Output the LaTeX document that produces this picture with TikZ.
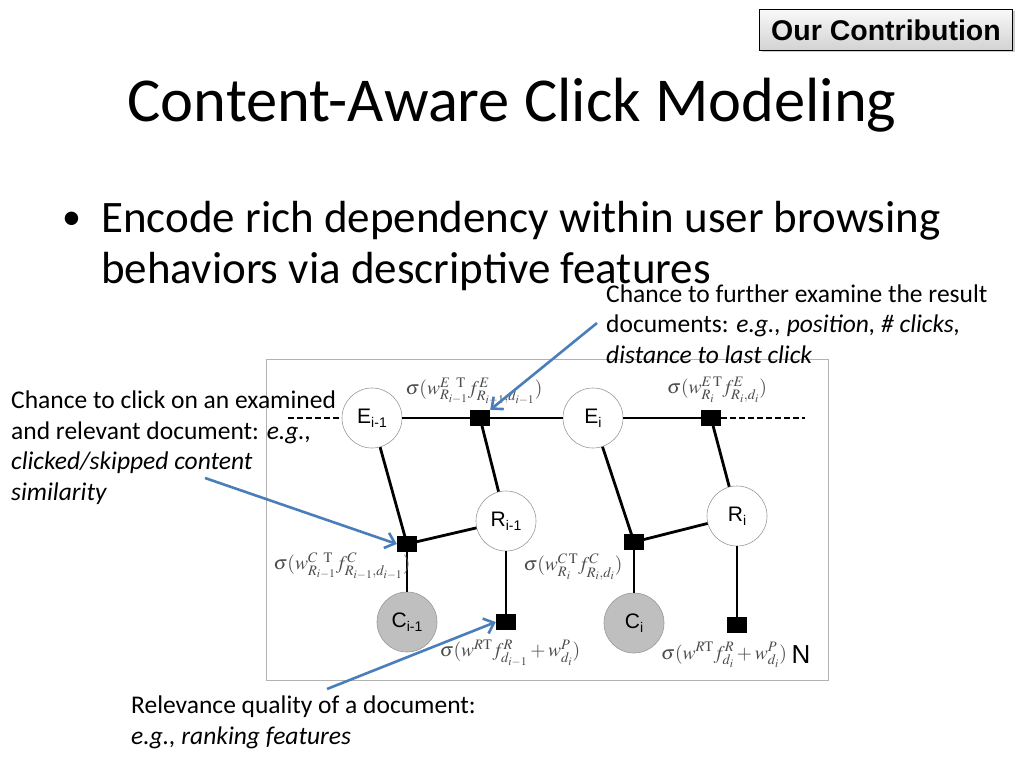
\documentclass[tikz,border=0pt]{standalone}
\usepackage{mathptmx}
\usepackage{fontspec}
\setmainfont{Carlito}
\newfontfamily\arialfont{Liberation Sans}
\usetikzlibrary{positioning,arrows.meta,shadows}

\definecolor{pointerblue}{HTML}{4A7EBB}
\definecolor{obsgray}{HTML}{BFBFBF}

% variable label: letter with a text subscript
\newcommand{\varlabel}[2]{#1\raisebox{-0.35ex}{\fontsize{14}{14}\selectfont #2}}

\begin{document}
\begin{tikzpicture}[x=1pt, y=-1pt]
  \tikzset{
    var/.style={circle, draw=gray!80, line width=0.6pt, fill=white,
      minimum size=60pt, inner sep=0pt,
      font=\arialfont\fontsize{21}{21}\selectfont},
    obs/.style={var, fill=obsgray},
    factor/.style={rectangle, fill=black, minimum width=20pt,
      minimum height=16pt, inner sep=0pt},
    edge/.style={line width=2.8pt},
    chain/.style={edge, dash pattern=on 6pt off 3pt},
    formula/.style={text=black!70, inner sep=0pt,
      font=\fontsize{19.5}{19.5}\selectfont},
    note/.style={align=left, anchor=base west, inner sep=0pt,
      font=\fontsize{25.5}{30.5}\selectfont},
    pointer/.style={draw=pointerblue, line width=2.6pt,
      -{Straight Barb[length=9pt,width=16pt]}}
  }
  \useasboundingbox (0,0) rectangle (1024,768);

  % header
  \node[draw=black, line width=1pt, top color=gray!5, bottom color=gray!35,
    drop shadow={shadow xshift=2pt, shadow yshift=-2pt, opacity=0.4},
    minimum width=253pt, minimum height=41pt, inner sep=0pt,
    font=\arialfont\bfseries\fontsize{28.5}{28.5}\selectfont]
    (contrib) at (886,30) {Our Contribution};
  \node[anchor=base, inner sep=0pt, font=\fontsize{62.5}{62.5}\selectfont]
    (title) at (512,121) {Content-Aware Click Modeling};
  \node[anchor=base west, inner sep=0pt, font=\fontsize{38}{38}\selectfont]
    (bullet) at (62,229) {\textbullet};
  % base anchor of a multi-line node sits on its last line
  \node[anchor=base west, inner sep=0pt, align=left,
    font=\fontsize{45}{51}\selectfont]
    (point) at (101,283) {Encode rich dependency within user browsing\\
    behaviors via descriptive features};

  % graphical model
  \draw[gray!60, line width=0.8pt] (266,359) rectangle (828,680);

  \node[var] (e1) at (372,418) {\varlabel{E}{i-1}};
  \node[var] (e2) at (593,418) {\varlabel{E}{i}};
  \node[var] (r1) at (506,521) {\varlabel{R}{i-1}};
  \node[var] (r2) at (737,516) {\varlabel{R}{i}};
  \node[obs] (c1) at (407,622) {\varlabel{C}{i-1}};
  \node[obs] (c2) at (634,623) {\varlabel{C}{i}};

  \node[factor] (fe1) at (480,418) {};
  \node[factor] (fe2) at (711,418) {};
  \node[factor] (fc1) at (407,544) {};
  \node[factor] (fc2) at (634,542) {};
  \node[factor] (fr1) at (506,622) {};
  \node[factor] (fr2) at (737,625) {};

  \coordinate (prev) at (288,418);
  \coordinate (next) at (805,418);

  \draw[chain] (prev) -- (e1);
  \draw[edge] (e1) -- (fe1) -- (e2) -- (fe2);
  \draw[chain] (fe2) -- (next);
  \draw[edge] (fe1.center) -- (r1);
  \draw[edge] (fe2.center) -- (r2);
  \draw[edge] (e1) -- (fc1.center);
  \draw[edge] (e2) -- (fc2.center);
  \draw[edge] (r1) -- (fc1.center);
  \draw[edge] (r2) -- (fc2.center);
  \draw[edge] (fc1) -- (c1);
  \draw[edge] (fc2) -- (c2);
  \draw[edge] (r1) -- (fr1);
  \draw[edge] (r2) -- (fr2);

  \node[formula] (le1) at (474,391)
    {$\sigma(w^{E\;\;\mathrm{T}}_{R_{i-1}} f^{E}_{R_{i-1},d_{i-1}})$};
  \node[formula] (le2) at (717,390)
    {$\sigma(w^{E\,\mathrm{T}}_{R_i} f^{E}_{R_i,d_i})$};
  \node[formula] (lc1) at (342,566)
    {$\sigma(w^{C\;\;\mathrm{T}}_{R_{i-1}} f^{C}_{R_{i-1},d_{i-1}})$};
  \node[formula] (lc2) at (573,567)
    {$\sigma(w^{C\,\mathrm{T}}_{R_i} f^{C}_{R_i,d_i})$};
  \node[formula] (lr1) at (510,653)
    {$\sigma(w^{R\mathrm{T}} f^{R}_{d_{i-1}} + w^{P}_{d_i})$};
  \node[formula] (lr2) at (724,655)
    {$\sigma(w^{R\mathrm{T}} f^{R}_{d_i} + w^{P}_{d_i})$};
  \node[anchor=west, inner sep=0pt, font=\arialfont\fontsize{26}{26}\selectfont]
    (plate) at (lr2.east) {\,N};

  % annotations
  \node[note] (noteE) at (606,363) {Chance to further examine the result\\
    documents: \textit{e.g., position, \# clicks,}\\
    \textit{distance to last click}};
  \node[note] (noteC) at (11,500) {Chance to click on an examined\\
    and relevant document: \textit{e.g.,}\\
    \textit{clicked/skipped content}\\
    \textit{similarity}};
  \node[note] (noteR) at (131,744) {Relevance quality of a document:\\
    \textit{e.g., ranking features}};

  \coordinate (fromE) at (597,323);
  \coordinate (fromC) at (205,478);
  \coordinate (fromR) at (327,689);
  \draw[pointer] (fromE) -- (fe1.north east);
  \draw[pointer] (fromC) -- (fc1.west);
  \draw[pointer] (fromR) -- (fr1.west);
\end{tikzpicture}
\end{document}
